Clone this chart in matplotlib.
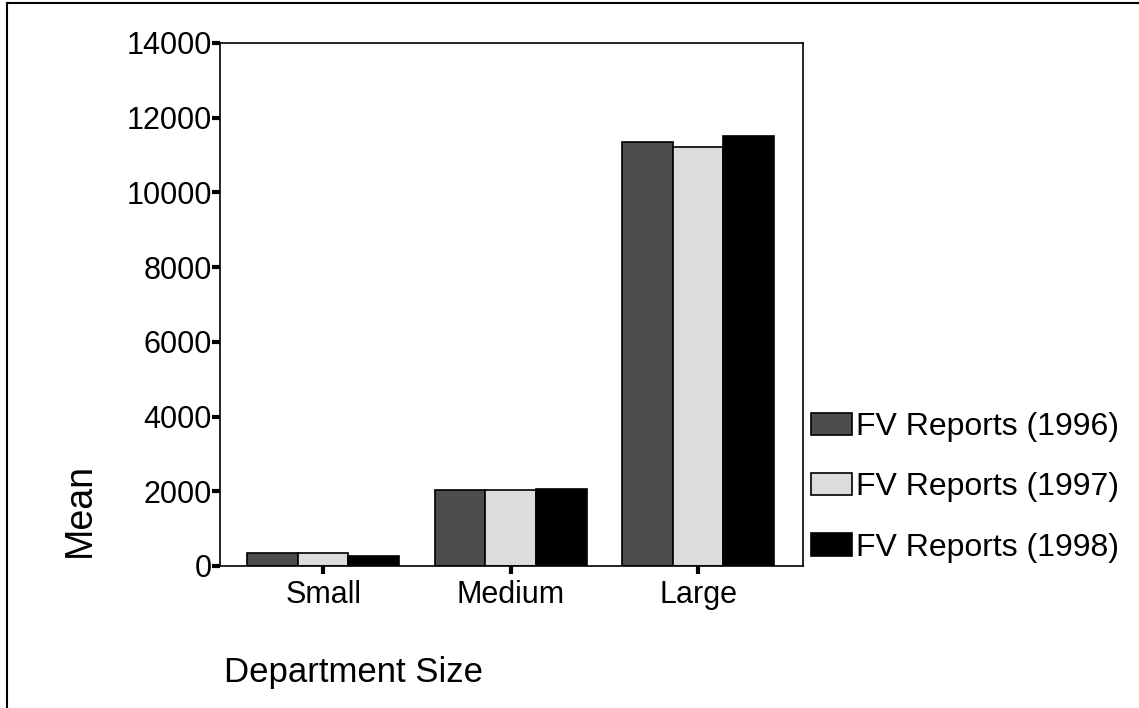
import numpy as np
import matplotlib.pyplot as plt
from matplotlib.lines import Line2D

plt.rcParams['font.family'] = ['Liberation Sans', 'DejaVu Sans']

sizes = ['Small', 'Medium', 'Large']
series = ['FV Reports (1996)', 'FV Reports (1997)', 'FV Reports (1998)']
reports_1996 = [345, 2045, 11340]
reports_1997 = [345, 2030, 11215]
reports_1998 = [275, 2060, 11500]
yticks = [0, 2000, 4000, 6000, 8000, 10000, 12000, 14000]

colors = ['#4d4d4d', '#dcdcdc', '#000000']

fig = plt.figure(figsize=(11.39, 7.08), dpi=100)
ax = fig.add_axes([0.1932, 0.2006, 0.5118, 0.7387])

x = np.arange(len(sizes))
w = 0.27
for i, vals in enumerate([reports_1996, reports_1997, reports_1998]):
    ax.bar(x + (i - 1) * w, vals, w, color=colors[i], edgecolor='black',
           linewidth=1.2, label=series[i])

ax.set_xlim(-0.55, 2.56)
ax.set_ylim(0, 14000)
ax.set_yticks(yticks)
ax.set_yticklabels([str(t) for t in yticks], fontsize=22)
ax.set_xticks(x)
ax.set_xticklabels(sizes, fontsize=22)
ax.tick_params(axis='y', direction='out', length=6, width=3, pad=0)
ax.tick_params(axis='x', direction='out', length=6, width=3, pad=4)
for s in ax.spines.values():
    s.set_linewidth(1.2)

fig.text(0.197, 0.05, 'Department Size', fontsize=25, ha='left', va='center')
fig.text(0.07, 0.28, 'Mean', fontsize=27, rotation=90, ha='center', va='center')

ax.legend(loc='upper left', bbox_to_anchor=(0.712, 0.418), bbox_transform=fig.transFigure,
          frameon=False, fontsize=23, handlelength=1.3, handleheight=0.7,
          handletextpad=0.1, labelspacing=0.95, borderaxespad=0, borderpad=0)

# outer frame
fig.add_artist(Line2D([0.006, 0.006], [0.0, 0.996], color='black', lw=1.5))
fig.add_artist(Line2D([0.006, 1.0], [0.996, 0.996], color='black', lw=1.5))

fig.savefig('out.png', dpi=100)
